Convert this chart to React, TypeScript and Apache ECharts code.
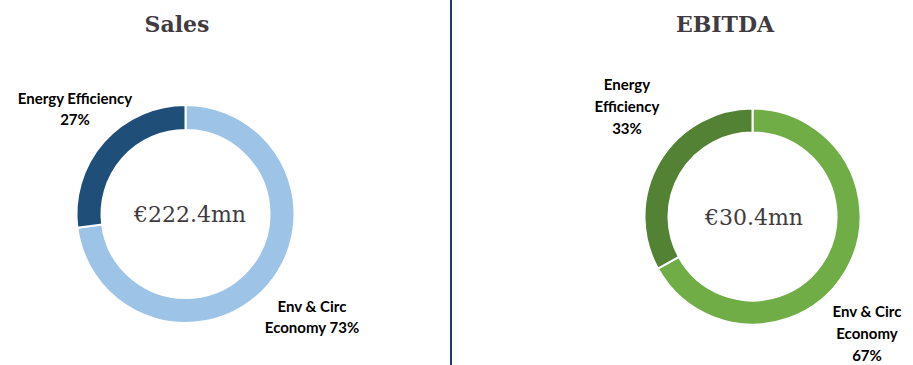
import React, { useEffect, useRef } from "react";
import * as echarts from "echarts";

const segments = ["Env & Circ Economy", "Energy Efficiency"];
const salesShares = [73, 27];
const ebitdaShares = [67, 33];
const chartTitles = ["Sales", "EBITDA"];
const totals = ["€222.4mn", "€30.4mn"];
const salesLabels = ["Env & Circ\nEconomy 73%", "Energy Efficiency\n27%"];
const ebitdaLabels = ["Env & Circ\nEconomy\n67%", "Energy\nEfficiency\n33%"];

const salesColors = ["#9DC3E6", "#1F4E79"];
const ebitdaColors = ["#70AD47", "#548235"];

export default function App() {
  const ref = useRef<HTMLDivElement>(null);
  useEffect(() => {
    document.body.style.margin = "0";
    const chart = echarts.init(ref.current!, null, { renderer: "svg" });
    const salesLabelPos = [
      [312, 316],
      [75, 108],
    ];
    const ebitdaLabelPos = [
      [867, 333],
      [627, 106],
    ];
    const labelTexts = (labels: string[], pos: number[][], lh: number) =>
      labels.map((t, i) => ({
        type: "text",
        x: pos[i][0],
        y: pos[i][1],
        style: {
          text: t,
          font: "bold 15px Lato",
          fill: "#000",
          lineHeight: lh,
          textAlign: "center",
          textVerticalAlign: "middle",
        },
      }));
    const mkSeries = (
      name: string,
      vals: number[],
      colors: string[],
      center: number[],
      radius: number[]
    ) => ({
      type: "pie",
      name,
      center,
      radius,
      startAngle: 90,
      clockwise: true,
      silent: true,
      itemStyle: { borderColor: "#fff", borderWidth: 2 },
      data: vals.map((v, i) => ({
        name: segments[i],
        value: v,
        itemStyle: { color: colors[i] },
      })),
      label: { show: false },
      labelLine: { show: false },
    });
    const textEl = (x: number, y: number, text: string, font: string) => ({
      type: "text",
      x,
      y,
      style: {
        text,
        font,
        fill: "#3F3B40",
        textAlign: "center",
        textVerticalAlign: "middle",
      },
    });
    chart.setOption({
      animation: false,
      series: [
        mkSeries("Sales", salesShares, salesColors, [185.5, 214], [84, 109]),
        mkSeries("EBITDA", ebitdaShares, ebitdaColors, [752.5, 216.5], [84, 108]),
      ],
      graphic: [
        {
          type: "line",
          shape: { x1: 451, y1: 0, x2: 451, y2: 365 },
          style: { stroke: "#1F3864", lineWidth: 2 },
        },
        textEl(177, 24, chartTitles[0], "bold 22px 'DejaVu Serif'"),
        textEl(725, 24, chartTitles[1], "bold 22px 'DejaVu Serif'"),
        textEl(190, 214, totals[0], "22px 'DejaVu Serif'"),
        textEl(754, 217, totals[1], "22px 'DejaVu Serif'"),
        ...labelTexts(salesLabels, salesLabelPos, 21),
        ...labelTexts(ebitdaLabels, ebitdaLabelPos, 22),
      ],
    });
    return () => chart.dispose();
  }, []);
  return <div ref={ref} style={{ width: 913, height: 365 }} />;
}
